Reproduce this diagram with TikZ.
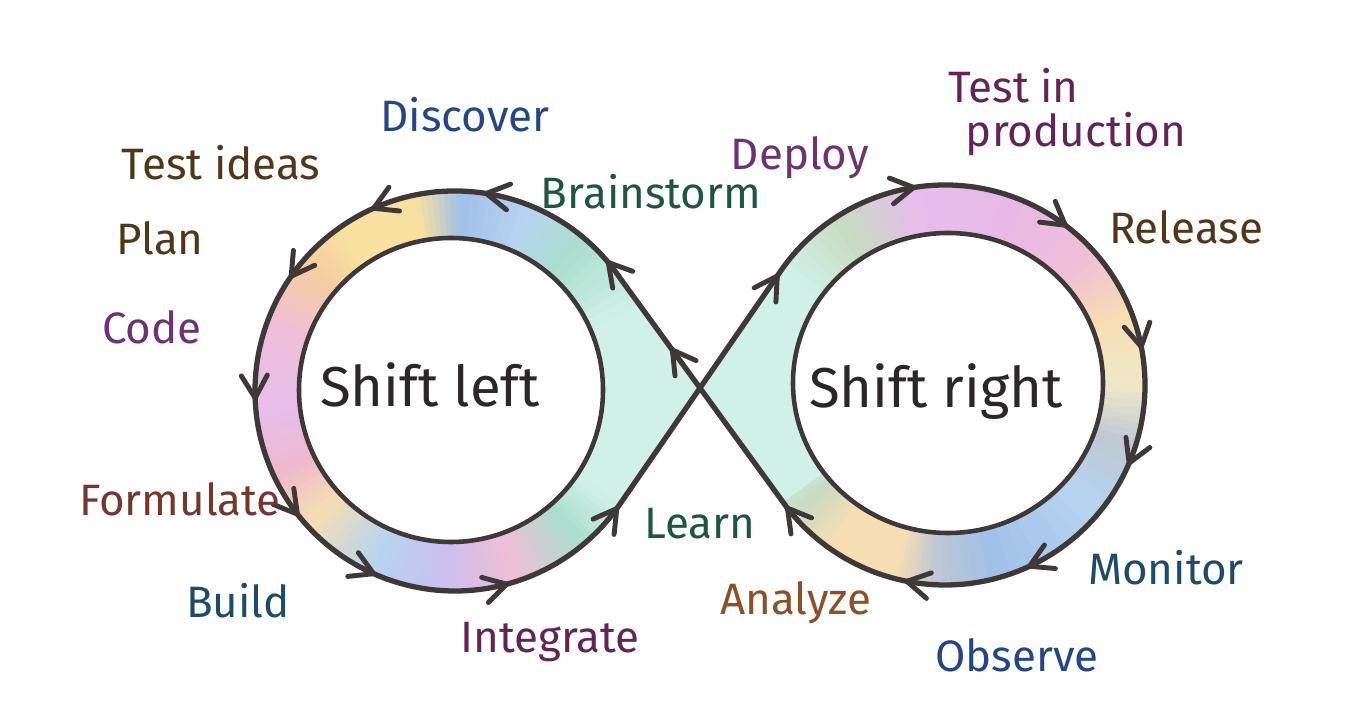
\documentclass[tikz,border=0pt]{standalone}
\usepackage{fontspec}
\setmainfont{Fira Sans}
\usepackage{tikz}
\usetikzlibrary{calc}
\definecolor{pencilink}{RGB}{62, 56, 56}
\definecolor{pmint}     {RGB}{208, 240, 232}
\definecolor{pteal}     {RGB}{170, 222, 205}
\definecolor{plblue}    {RGB}{182, 212, 240}
\definecolor{pblue}     {RGB}{160, 192, 232}
\definecolor{pgrayblue} {RGB}{190, 200, 212}
\definecolor{pyellow}   {RGB}{248, 225, 160}
\definecolor{porange}   {RGB}{245, 205, 160}
\definecolor{ppink}     {RGB}{240, 190, 215}
\definecolor{plilac}    {RGB}{230, 190, 235}
\definecolor{prose}     {RGB}{238, 185, 205}
\definecolor{ppeach}    {RGB}{246, 222, 180}
\definecolor{pviolet}   {RGB}{205, 190, 238}
\definecolor{pmagenta}  {RGB}{232, 185, 230}
\definecolor{pcream}    {RGB}{240, 232, 200}
\definecolor{pgreengray}{RGB}{200, 218, 195}
% label inks
\definecolor{inkblue}   {RGB}{35, 70, 135}
\definecolor{inkbrown}  {RGB}{80, 55, 25}
\definecolor{inkpurple} {RGB}{110, 50, 115}
\definecolor{inkred}    {RGB}{115, 55, 45}
\definecolor{inkteal}   {RGB}{30, 75, 105}
\definecolor{inkplum}   {RGB}{100, 35, 85}
\definecolor{inkgreen}  {RGB}{30, 85, 65}
\definecolor{inkorange} {RGB}{140, 80, 40}
\tikzset{
  % outline of the loop
  loopline/.style={draw=pencilink, line width=3pt, line join=round},
  % inner white rings
  ringline/.style={draw=pencilink, line width=2.6pt, fill=white},
  % hand drawn arrow barbs
  barb/.style={draw=pencilink, line width=2.8pt, line cap=round},
  lbl/.style={font=\fontsize{25}{25}\selectfont, inner sep=0pt},
  shiftlbl/.style={font=\fontsize{32}{36}\selectfont, text=pencilink!70!black, inner sep=0pt},
}
% coloured pencil wedges round a centre
\newcommand{\bandwedges}[2]{%
  \foreach \aa/\ca/\ab/\cb in {#2} {
    \foreach \k in {0,...,7} {
      \pgfmathsetmacro{\pa}{\aa+((\ab)-(\aa))*\k/8}
      \pgfmathsetmacro{\pb}{\aa+((\ab)-(\aa))*(\k+1)/8+0.8}
      \pgfmathtruncatemacro{\mx}{100-12.5*\k-6}
      \fill[fill=\ca!\mx!\cb] (#1) -- +(\pa:330) -- +(\pb:330) -- cycle;
    }
  }
}
% barb on a lobe: centre, angle, sense (1 ccw, -1 cw)
\newcommand{\arcbarb}[3]{%
  \path (#1) ++(#2:200) coordinate (bp);
  \pgfmathsetmacro{\tang}{#2+90*(#3)}
  \draw[barb] (bp) -- +(\tang+150:26) (bp) -- +(\tang-150:26);
}
\newcommand{\infpath}{(lu) arc[start angle=34.03, end angle=325.49, radius=200] -- (ru) arc[start angle=145.3, end angle=-142.1, radius=200] -- cycle}

\begin{document}
\begin{tikzpicture}[x=0.02cm, y=0.02cm]
  \useasboundingbox[fill=white] (0,0) rectangle (1370,720);
  \coordinate (L) at (455,329);
  \coordinate (R) at (945,335);
  \path (L) ++(34.03:200) coordinate (lu);
  \path (L) ++(325.49:200) coordinate (ll);
  \path (R) ++(145.3:200) coordinate (ru);
  \path (R) ++(217.9:200) coordinate (rl);

  % pencil colouring of the band
  \begin{scope}
    \clip \infpath;
    \begin{scope}
      \clip (0,0) rectangle (697,720);
      \bandwedges{L}{-40/pmint/25/pmint, 25/pmint/50/pteal, 50/pteal/68/plblue,
        68/plblue/88/pblue, 88/pblue/102/pyellow, 102/pyellow/125/pyellow,
        125/pyellow/140/porange, 140/porange/160/ppink, 160/ppink/185/plilac,
        185/plilac/205/prose, 205/prose/222/ppeach, 222/ppeach/245/plblue,
        245/plblue/268/pviolet, 268/pviolet/288/ppink, 288/ppink/310/pteal,
        310/pteal/325/pmint}
    \end{scope}
    \begin{scope}
      \clip (697,0) rectangle (1370,720);
      \bandwedges{R}{-150/pmint/-140/pgreengray, -140/pgreengray/-125/ppeach,
        -125/ppeach/-105/ppeach, -105/ppeach/-93/pgrayblue, -93/pgrayblue/-75/pblue,
        -75/pblue/-40/plblue, -40/plblue/-18/pgrayblue, -18/pgrayblue/0/pcream,
        0/pcream/22/ppeach, 22/ppeach/42/ppink, 42/ppink/70/pmagenta,
        70/pmagenta/100/plilac, 100/plilac/122/pgreengray, 122/pgreengray/145/pmint,
        145/pmint/215/pmint}
    \end{scope}
  \end{scope}

  \draw[ringline] (451,330) circle[radius=152];
  \draw[ringline] (948,337) ellipse[x radius=155, y radius=150];
  \draw[loopline] \infpath;

  % arrows, left lobe runs counter clockwise
  \foreach \a in {40,81,114,145,182,218,246,285,324} {\arcbarb{L}{\a}{1}}
  \path (rl) -- (lu) coordinate[pos=0.69] (bp);
  \draw[barb] (bp) -- +(276:26) (bp) -- +(-24:26);
  % right lobe runs clockwise
  \foreach \a in {147,99,53,11,-23,-65,-101,218} {\arcbarb{R}{\a}{-1}}

  \node[shiftlbl] (shl) at (430,335) {Shift left};
  \node[shiftlbl] (shr) at (936,328) {Shift right};

  \node[lbl, text=inkblue]   (discover) at (465,605) {Discover};
  \node[lbl, text=inkbrown]  (ideas)    at (221,557) {Test ideas};
  \node[lbl, text=inkbrown]  (plan)     at (160,482) {Plan};
  \node[lbl, text=inkpurple] (code)     at (152,393) {Code};
  \node[lbl, text=inkred]    (formul)   at (180,221) {Formulate};
  \node[lbl, text=inkteal]   (build)    at (238,119) {Build};
  \node[lbl, text=inkplum]   (integ)    at (550,78)  {Integrate};
  \node[lbl, text=inkgreen]  (brain)    at (651,528) {Brainstorm};
  \node[lbl, text=inkgreen]  (learn)    at (700,196) {Learn};
  \node[lbl, text=inkorange] (analyze)  at (796,117) {Analyze};
  \node[lbl, text=inkblue]   (observe)  at (1017,65) {Observe};
  \node[lbl, text=inkteal]   (monitor)  at (1166,152) {Monitor};
  \node[lbl, text=inkbrown]  (release)  at (1186,493) {Release};
  \node[lbl, text=inkpurple] (deploy)   at (800,562) {Deploy};
  \node[lbl, text=inkplum, align=left, anchor=north west] (testprod) at (948,652) {Test in\\\hspace*{0.4em}production};
\end{tikzpicture}
\end{document}
